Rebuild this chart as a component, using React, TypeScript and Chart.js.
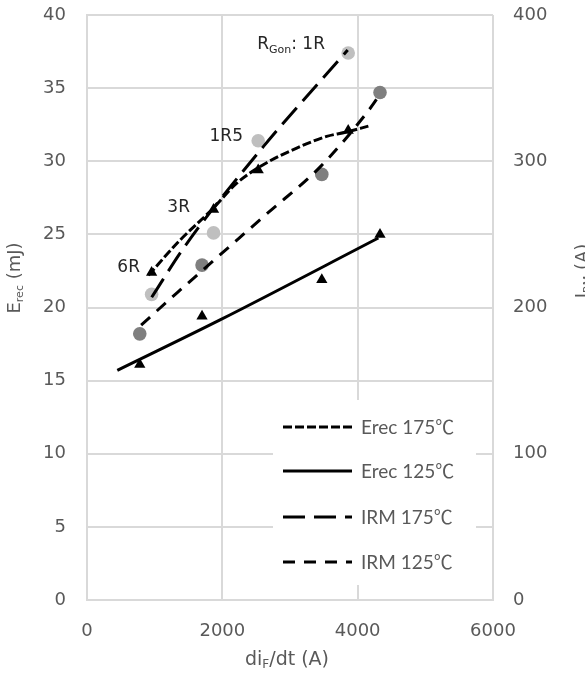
import React, { useEffect, useRef } from "react";
import { Chart, registerables } from "chart.js";

Chart.register(...registerables);

// ---------- data ----------
const xMin = 0;
const xMax = 6000;
const xStep = 2000;
const erecMax = 40;
const erecStep = 5;
const irmMax = 400;
const irmStep = 100;

// measured points, 175 °C (R_Gon: 6R, 3R, 1R5, 1R)
const x175 = [955, 1870, 2530, 3860];
const erec175 = [22.4, 26.7, 29.4, 32.1];
const irm175 = [209, 251, 314, 374];

// measured points, 125 °C
const x125 = [780, 1700, 3470, 4330];
const erec125 = [16.1, 19.4, 21.9, 25.0];
const irm125 = [182, 229, 291, 347];

// trend lines as drawn in the picture
const erec175TrendX = [906, 1374, 1868, 2213, 2656, 3099, 3542, 3838, 4158];
const erec175TrendY = [22.2, 24.6, 26.8, 28.5, 29.9, 30.9, 31.7, 32.0, 32.4];
const erec125TrendX = [448, 1966, 4306];
const erec125TrendY = [15.7, 19.15, 24.75];
const irm175TrendX = [956, 1448, 2606, 3853];
const irm175TrendY = [207, 242, 310, 376];
const irm125TrendX = [800, 1330, 2656, 3443, 4133, 4320];
const irm125TrendY = [188, 210, 264, 296, 333, 345];

const seriesNames = ["Erec 175℃", "Erec 125℃", "IRM 175℃", "IRM 125℃"];

// R_Gon annotations (right edge of text, in data units of the left axis)
const rgLabels = ["1R", "1R5", "3R", "6R"];
const rgX = [3517, 2305, 1522, 783];
const rgY = [37.95, 31.66, 26.8, 22.7];

// ---------- styles ----------
const TICK_COLOR = "#595959";
const GRID_COLOR = "#d9d9d9";
const LINE_W = 3;
const dashes: number[][] = [[9, 3], [], [22, 9], [12, 9]];
const FONT_TXT = "Lato, 'Noto Sans CJK SC', sans-serif";
const FONT_NUM = "'DejaVu Sans', sans-serif";

const pts = (xs: number[], ys: number[]) => xs.map((x, i) => ({ x, y: ys[i] }));

type Part = { t: string; sub?: boolean };

function richWidth(ctx: CanvasRenderingContext2D, parts: Part[], size: number, subSize: number, fam: string) {
  let w = 0;
  for (const p of parts) {
    ctx.font = `${p.sub ? subSize : size}px ${fam}`;
    w += ctx.measureText(p.t).width;
  }
  return w;
}

function drawRich(
  ctx: CanvasRenderingContext2D,
  parts: Part[],
  x: number,
  y: number,
  size: number,
  subSize: number,
  align: "left" | "center" | "right",
  color: string,
  fam: string
) {
  const w = richWidth(ctx, parts, size, subSize, fam);
  let cx = align === "left" ? x : align === "center" ? x - w / 2 : x - w;
  ctx.fillStyle = color;
  ctx.textAlign = "left";
  ctx.textBaseline = "middle";
  for (const p of parts) {
    ctx.font = `${p.sub ? subSize : size}px ${fam}`;
    ctx.fillText(p.t, cx, p.sub ? y + size * 0.28 : y);
    cx += ctx.measureText(p.t).width;
  }
}

const overlayPlugin = {
  id: "overlay",
  afterDraw(chart: any) {
    const ctx: CanvasRenderingContext2D = chart.ctx;
    const ca = chart.chartArea;
    const xs = chart.scales.x;
    const ys = chart.scales.y;
    ctx.save();

    // legend box inside plot area
    ctx.fillStyle = "#ffffff";
    ctx.fillRect(ca.right - 220, ca.bottom - 200, 203, 185);
    const rowY = [ca.bottom - 173, ca.bottom - 129, ca.bottom - 83, ca.bottom - 38];
    seriesNames.forEach((name, i) => {
      ctx.beginPath();
      ctx.strokeStyle = "#000";
      ctx.lineWidth = LINE_W;
      ctx.setLineDash(dashes[i]);
      ctx.moveTo(ca.right - 210, rowY[i]);
      ctx.lineTo(ca.right - 141, rowY[i]);
      ctx.stroke();
      ctx.setLineDash([]);
      ctx.font = `19px ${FONT_TXT}`;
      ctx.fillStyle = TICK_COLOR;
      ctx.textAlign = "left";
      ctx.textBaseline = "middle";
      ctx.fillText(name, ca.right - 132, rowY[i] + 1);
    });

    // R_Gon annotations
    rgLabels.forEach((lab, i) => {
      const px = xs.getPixelForValue(rgX[i]);
      const py = ys.getPixelForValue(rgY[i]);
      const parts: Part[] = i === 0 ? [{ t: "R" }, { t: "Gon", sub: true }, { t: ": " + lab }] : [{ t: lab }];
      drawRich(ctx, parts, px, py, 17, 11, "right", "#262626", FONT_NUM);
    });

    // x axis title
    drawRich(ctx, [{ t: "di" }, { t: "F", sub: true }, { t: "/dt (A)" }], (ca.left + ca.right) / 2 - 3, 660, 19, 12, "center", TICK_COLOR, FONT_NUM);

    // left axis title
    ctx.save();
    ctx.translate(15, 278);
    ctx.rotate(-Math.PI / 2);
    drawRich(ctx, [{ t: "E" }, { t: "rec", sub: true }, { t: " (mJ)" }], 0, 0, 18, 11, "center", TICK_COLOR, FONT_NUM);
    ctx.restore();

    // right axis title
    ctx.save();
    ctx.translate(583, 271);
    ctx.rotate(-Math.PI / 2);
    drawRich(ctx, [{ t: "I" }, { t: "RM", sub: true }, { t: " (A)" }], 0, 0, 18, 11, "center", TICK_COLOR, FONT_NUM);
    ctx.restore();

    ctx.restore();
  },
};

export default function App() {
  const ref = useRef<HTMLCanvasElement | null>(null);

  useEffect(() => {
    if (!ref.current) return;
    const lineDs = (label: string, data: any[], dash: number[], axis: string) => ({
      label,
      data,
      yAxisID: axis,
      showLine: true,
      borderColor: "#000",
      borderWidth: LINE_W,
      borderDash: dash,
      pointRadius: 0,
      fill: false,
      cubicInterpolationMode: "monotone",
      order: 0,
    });
    const markDs = (label: string, data: any[], style: string, color: string, axis: string, r: number) => ({
      label,
      data,
      yAxisID: axis,
      showLine: false,
      pointStyle: style,
      pointRadius: r,
      pointBackgroundColor: color,
      pointBorderColor: color,
      pointBorderWidth: 0,
      order: 1,
    });
    const plain = (v: any) => String(v);

    const chart = new Chart(ref.current, {
      type: "scatter",
      data: {
        datasets: [
          lineDs(seriesNames[0], pts(erec175TrendX, erec175TrendY), dashes[0], "y"),
          lineDs(seriesNames[1], pts(erec125TrendX, erec125TrendY), dashes[1], "y"),
          lineDs(seriesNames[2], pts(irm175TrendX, irm175TrendY), dashes[2], "y1"),
          lineDs(seriesNames[3], pts(irm125TrendX, irm125TrendY), dashes[3], "y1"),
          markDs("Erec 175 pts", pts(x175, erec175), "triangle", "#000", "y", 6.5),
          markDs("Erec 125 pts", pts(x125, erec125), "triangle", "#000", "y", 6.5),
          markDs("IRM 175 pts", pts(x175, irm175), "circle", "#bfbfbf", "y1", 6.8),
          markDs("IRM 125 pts", pts(x125, irm125), "circle", "#7f7f7f", "y1", 6.8),
        ] as any,
      },
      options: {
        responsive: false,
        animation: false,
        devicePixelRatio: 1,
        layout: { padding: { top: 15, left: 0, right: 0, bottom: 0 } },
        plugins: { legend: { display: false }, tooltip: { enabled: false } },
        scales: {
          x: {
            type: "linear",
            min: xMin,
            max: xMax,
            ticks: { stepSize: xStep, color: TICK_COLOR, font: { family: FONT_NUM, size: 18 }, padding: 21, callback: plain },
            grid: { color: GRID_COLOR, lineWidth: 2, drawTicks: false },
            border: { color: GRID_COLOR, width: 2 },
            afterFit: (s: any) => {
              s.height = 82;
              s.paddingLeft = 0;
              s.paddingRight = 0;
            },
          },
          y: {
            position: "left",
            min: 0,
            max: erecMax,
            ticks: { stepSize: erecStep, color: TICK_COLOR, font: { family: FONT_NUM, size: 18 }, padding: 21, callback: plain },
            grid: { color: GRID_COLOR, lineWidth: 2, drawTicks: false },
            border: { color: GRID_COLOR, width: 2 },
            afterFit: (s: any) => {
              s.width = 87;
              s.paddingTop = 0;
              s.paddingBottom = 0;
            },
          },
          y1: {
            position: "right",
            min: 0,
            max: irmMax,
            ticks: { stepSize: irmStep, color: TICK_COLOR, font: { family: FONT_NUM, size: 18 }, padding: 20, callback: plain },
            grid: { drawOnChartArea: false, drawTicks: false },
            border: { display: false },
            afterFit: (s: any) => {
              s.width = 92;
              s.paddingTop = 0;
              s.paddingBottom = 0;
            },
          },
        },
      } as any,
      plugins: [overlayPlugin],
    });
    return () => chart.destroy();
  }, []);

  return (
    <div style={{ position: "absolute", left: 0, top: 0, width: 585, height: 682, background: "#fff" }}>
      <canvas ref={ref} width={585} height={682} style={{ display: "block", width: 585, height: 682 }} />
    </div>
  );
}
